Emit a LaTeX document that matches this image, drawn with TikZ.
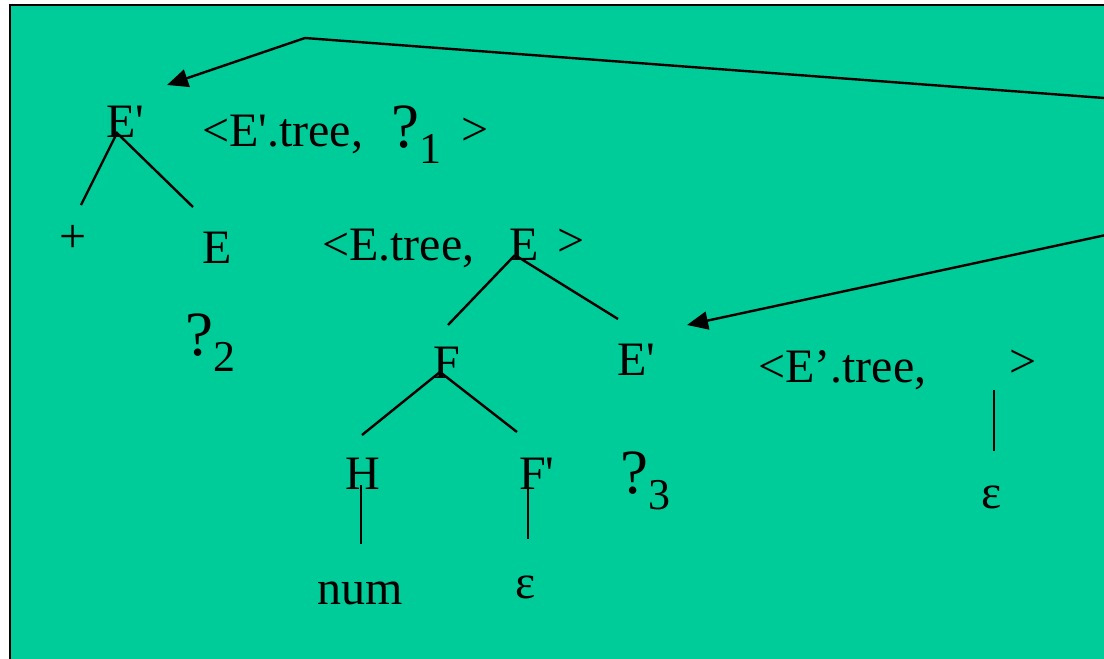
\documentclass[tikz,border=0pt]{standalone}
\usepackage{fontspec}
\setmainfont{Liberation Serif}[Ligatures=TeXOff]
\usetikzlibrary{arrows.meta}
\definecolor{bg}{HTML}{00CC99}
\newcommand\qsub[1]{?\raisebox{-16pt}{\fontsize{44}{50}\selectfont #1}}
\begin{document}
\begin{tikzpicture}[x=1pt,y=-1pt,
  lbl/.style={inner sep=0pt, anchor=base west, font=\fontsize{48}{56}\selectfont},
  qm/.style={inner sep=0pt, anchor=base west, font=\fontsize{63}{70}\selectfont},
  edge/.style={line width=2.4pt},
  arr/.style={line width=2.4pt, -{Triangle[length=21pt,width=18pt]}}]
\useasboundingbox (0,0) rectangle (1104,659);
\clip (0,0) rectangle (1104,659);
\fill[bg] (10,5) rectangle (1110,665);
\draw[line width=1.5pt] (10,670) -- (10,5) -- (1110,5);

% top subtree E'
\node[lbl] (ep1) at (106,137) {E'};
\node[lbl] (lab1) at (202,146) {<E'.tree,};
\node[qm] (q1) at (391,147) {\qsub{1}};
\node[lbl] (gt1) at (461,145) {>};
\node[lbl] (plus) at (59,252) {+};
\node[lbl] (e1) at (202,263) {E};
\node[qm] (q2) at (185,355) {\qsub{2}};
\coordinate (ep1r) at (117,133);
\coordinate (plust) at (81,205);
\coordinate (e1t) at (193,207);
\draw[edge] (plust) -- (ep1r) -- (e1t);

% E subtree
\node[lbl] (lab2) at (322,260) {<E.tree,};
\node[lbl] (e2) at (509,260) {E};
\node[lbl] (gt2) at (557,256) {>};
\node[lbl] (f) at (433,378) {F};
\node[lbl] (ep2) at (617,375) {E'};
\coordinate (e2r) at (515,255);
\coordinate (e2r2) at (518,257);
\coordinate (ft) at (448,325);
\coordinate (ep2t) at (618,319);
\draw[edge] (e2r) -- (ft);
\draw[edge] (e2r2) -- (ep2t);

% F subtree
\node[lbl] (h) at (345,489) {H};
\node[lbl] (fp) at (519,489) {F'};
\node[qm] (q3) at (620,493) {\qsub{3}};
\node[lbl] (num) at (317,604) {num};
\node[lbl] (eps1) at (515,598) {ε};
\coordinate (fr) at (440,372);
\coordinate (ht) at (362,435);
\coordinate (fpt) at (517,432);
\draw[edge] (ht) -- (fr) -- (fpt);
\coordinate (hb) at (361,485);
\coordinate (numt) at (361,544);
\draw[edge] (hb) -- (numt);
\coordinate (fpb) at (528,488);
\coordinate (eps1t) at (528,539);
\draw[edge] (fpb) -- (eps1t);

% E' subtree
\node[lbl] (lab3) at (758,382) {<E’.tree,};
\node[lbl] (gt3) at (1009,377) {>};
\node[lbl] (eps2) at (981,508) {ε};
\coordinate (vt) at (994,390);
\coordinate (vb) at (994,451);
\draw[edge] (vt) -- (vb);

% arrows
\coordinate (a1s) at (1200,105.2);
\coordinate (a1m) at (305,38);
\coordinate (a1e) at (167,85);
\draw[arr] (a1s) -- (a1m) -- (a1e);
\coordinate (a2s) at (1200,214.8);
\coordinate (a2e) at (687,325);
\draw[arr] (a2s) -- (a2e);
\end{tikzpicture}
\end{document}
